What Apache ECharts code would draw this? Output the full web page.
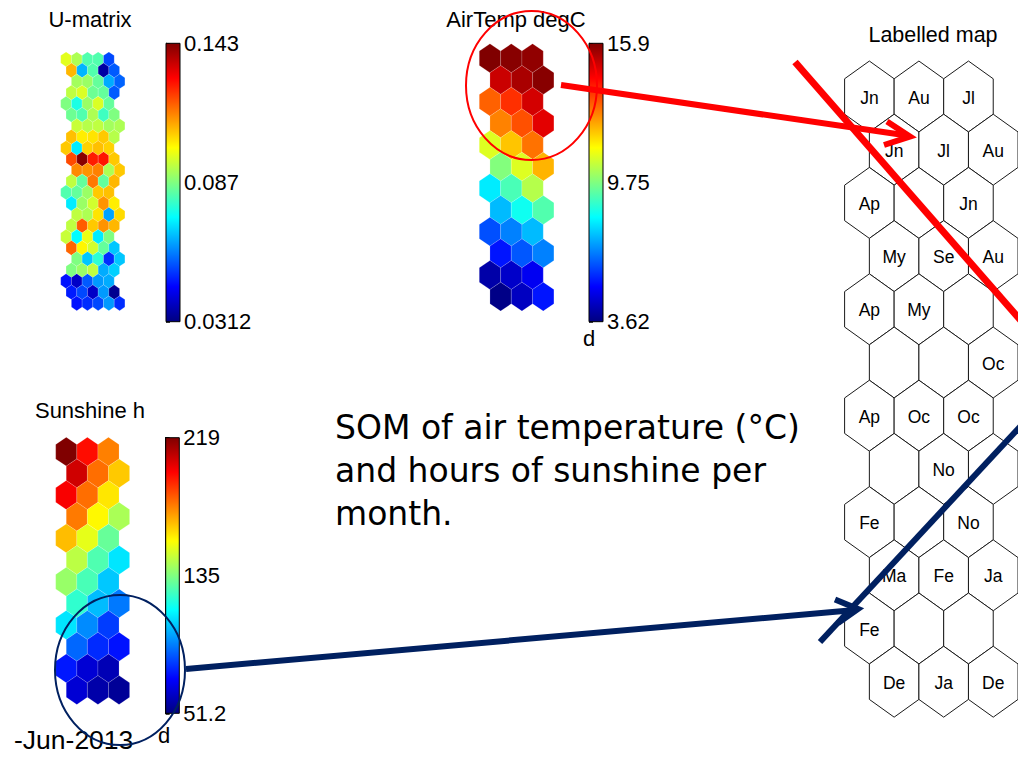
<!DOCTYPE html>
<html><head><meta charset="utf-8">
<script src="https://cdn.jsdelivr.net/npm/echarts@6/dist/echarts.min.js"></script>
<style>html,body{margin:0;padding:0;background:#fff}#c{width:1018px;height:757px}</style>
</head><body><div id="c"></div>
<script>
// ---- data ----
const uMatrix = [
  [0.098, 0.092, 0.082, 0.082, 0.053],
  [0.109, 0.065, 0.082, 0.035, 0.055],
  [0.091, 0.090, 0.084, 0.064, 0.056],
  [0.094, 0.097, 0.085, 0.084, 0.055],
  [0.087, 0.076, 0.090, 0.097, 0.084],
  [0.085, 0.082, 0.092, 0.080, 0.087],
  [0.095, 0.093, 0.094, 0.091, 0.092],
  [0.108, 0.103, 0.104, 0.107, 0.093],
  [0.107, 0.071, 0.106, 0.108, 0.106],
  [0.121, 0.142, 0.126, 0.127, 0.107],
  [0.114, 0.113, 0.115, 0.092, 0.107],
  [0.094, 0.084, 0.116, 0.084, 0.109],
  [0.082, 0.084, 0.090, 0.107, 0.108],
  [0.071, 0.090, 0.096, 0.113, 0.103],
  [0.094, 0.092, 0.104, 0.063, 0.105],
  [0.094, 0.119, 0.107, 0.113, 0.109],
  [0.095, 0.073, 0.099, 0.071, 0.087],
  [0.118, 0.102, 0.096, 0.084, 0.067],
  [0.087, 0.067, 0.078, 0.050, 0.067],
  [0.087, 0.090, 0.094, 0.064, 0.068],
  [0.047, 0.039, 0.055, 0.062, 0.064],
  [0.048, 0.053, 0.039, 0.062, 0.033],
  [0.047, 0.050, 0.053, 0.062, 0.050]
];
const airTemp = [
  [15.9, 15.8, 15.7],
  [15.0, 15.4, 15.8],
  [13.2, 13.8, 14.9],
  [12.8, 13.4, 14.7],
  [10.9, 12.0, 13.0],
  [9.8, 10.9, 12.2],
  [8.0, 9.1, 10.4],
  [7.4, 8.4, 9.2],
  [6.1, 6.7, 7.4],
  [5.4, 6.2, 6.7],
  [4.1, 4.5, 5.0],
  [3.7, 4.4, 5.4]
];
const sunshine = [
  [219, 196, 177],
  [206, 180, 165],
  [199, 180, 160],
  [178, 157, 142],
  [167, 152, 131],
  [145, 127, 110],
  [139, 126, 105],
  [122, 103, 92],
  [110, 95, 82],
  [89, 79, 75],
  [76, 65, 60],
  [65, 58, 55]
];
const monthLabels = [
  ['Jn','Au','Jl'], ['Jn','Jl','Au'], ['Ap','','Jn'], ['My','Se','Au'],
  ['Ap','My',''], ['','','Oc'], ['Ap','Oc','Oc'], ['','No',''],
  ['Fe','','No'], ['Ma','Fe','Ja'], ['Fe','',''], ['De','Ja','De']
];
const uRange = [0.0312, 0.143];
const airRange = [3.62, 15.9];
const sunRange = [51.2, 219];
const uTicks = ['0.0312', '0.087', '0.143'];
const airTicks = ['3.62', '9.75', '15.9'];
const sunTicks = ['51.2', '135', '219'];
const mapTitles = ['U-matrix', 'AirTemp degC', 'Sunshine h', 'Labelled map'];
const slideText = 'SOM of air temperature (°C)\nand hours of sunshine per\nmonth.';
const dateText = '-Jun-2013';

// ---- helpers ----
const jet = ['#000080','#0000ff','#0080ff','#00ffff','#80ff80','#ffff00','#ff8000','#ff0000','#800000'];
function hexData(rows, shifts) {
  const out = [];
  rows.forEach((row, r) => row.forEach((v, c) => out.push([c + shifts[r % shifts.length] + 0.5, r, v, c])));
  return out;
}
function hexPoints(api) {
  const c = api.coord([api.value(0), api.value(1)]);
  const s = api.size([1, 1]);
  const w = s[0] / 2, h = s[1];
  return [[c[0], c[1] - 2*h/3], [c[0] + w, c[1] - h/3], [c[0] + w, c[1] + h/3],
          [c[0], c[1] + 2*h/3], [c[0] - w, c[1] + h/3], [c[0] - w, c[1] - h/3]];
}
function colorHex(params, api) {
  return {type: 'polygon', shape: {points: hexPoints(api)},
    style: {fill: api.visual('color'), stroke: 'rgba(255,255,255,0.3)', lineWidth: 0.5}};
}
function labelHex(params, api) {
  const c = api.coord([api.value(0), api.value(1)]);
  const txt = monthLabels[api.value(1)][api.value(3)];
  return {type: 'group', children: [
    {type: 'polygon', shape: {points: hexPoints(api)}, style: {fill: '#fff', stroke: '#1a1a1a', lineWidth: 1}},
    {type: 'text', style: {text: txt, x: c[0], y: c[1] + 1, align: 'center', verticalAlign: 'middle',
      fontSize: 17.5, fontFamily: 'Liberation Sans', fill: '#000'}}
  ]};
}
function barItem(params, api) {
  const cs = params.coordSys;
  return {type: 'rect', shape: {x: cs.x, y: cs.y, width: cs.width, height: cs.height},
    style: {fill: {type: 'linear', x: 0, y: 1, x2: 0, y2: 0,
      colorStops: jet.map((col, i) => ({offset: i / (jet.length - 1), color: col}))},
      stroke: '#000', lineWidth: 1}};
}

const grids = [
  {left: 60.7, top: 48.2, width: 64.2, height: 266.2},   // U map
  {left: 479.3, top: 36.6, width: 74.6, height: 281.7},  // Air map
  {left: 55.7, top: 430.0, width: 73.9, height: 281.7},  // Sun map
  {left: 844.6, top: 43.3, width: 182.7, height: 691.6}, // Labelled map
  {left: 166, top: 43.3, width: 14, height: 278.4},      // U bar
  {left: 589, top: 43.3, width: 14, height: 278.4},      // Air bar
  {left: 165.7, top: 437.7, width: 13.6, height: 275.6}  // Sun bar
];
const xAxes = [
  {min: 0, max: 6}, {min: 0, max: 3.5}, {min: 0, max: 3.5}, {min: 0, max: 3.5},
  {min: 0, max: 1}, {min: 0, max: 1}, {min: 0, max: 1}
].map((a, i) => Object.assign({type: 'value', gridIndex: i, show: false}, a));
const yAxes = [
  {gridIndex: 0, min: -1, max: 23}, {gridIndex: 1, min: -1, max: 12},
  {gridIndex: 2, min: -1, max: 12}, {gridIndex: 3, min: -1, max: 12}
].map(a => Object.assign({type: 'value', inverse: true, show: false}, a));
[uTicks, airTicks, sunTicks].forEach((ticks, k) => {
  const gi = 4 + k;
  yAxes.push({type: 'value', gridIndex: gi, position: 'right', min: 0, max: 2, interval: 1,
    axisLine: {show: true, lineStyle: {color: '#000', width: 1}},
    axisTick: {show: true, length: 4, lineStyle: {color: '#000', width: 1.5}},
    splitLine: {show: false},
    axisLabel: {show: true, showMinLabel: true, showMaxLabel: true, margin: 4, color: '#000',
      fontSize: 22, fontFamily: 'Liberation Sans', formatter: v => ticks[Math.round(v)]}});
  yAxes.push({type: 'value', gridIndex: gi, position: 'left', min: 0, max: 2, interval: 1,
    axisLine: {show: true, lineStyle: {color: '#000', width: 1}},
    axisTick: {show: true, inside: true, length: 3, lineStyle: {color: '#000', width: 1}},
    splitLine: {show: false}, axisLabel: {show: false}});
});
// yAxis indices: 0..3 maps, 4/5 U bar, 6/7 Air bar, 8/9 Sun bar

const titleStyle = {fontSize: 22, fontWeight: 'normal', color: '#000', fontFamily: 'Liberation Sans'};
const option = {
  animation: false,
  backgroundColor: '#fff',
  title: [
    {text: mapTitles[0], left: 90, top: 8, textAlign: 'center', padding: 0, textStyle: titleStyle},
    {text: mapTitles[1], left: 516, top: 8, textAlign: 'center', padding: 0, textStyle: titleStyle},
    {text: mapTitles[2], left: 90, top: 399, textAlign: 'center', padding: 0, textStyle: titleStyle},
    {text: mapTitles[3], left: 933, top: 24, textAlign: 'center', padding: 0, textStyle: Object.assign({}, titleStyle, {fontSize: 21.5})}
  ],
  grid: grids,
  xAxis: xAxes,
  yAxis: yAxes,
  visualMap: [
    {type: 'continuous', show: false, seriesIndex: 0, dimension: 2, min: uRange[0], max: uRange[1], inRange: {color: jet}},
    {type: 'continuous', show: false, seriesIndex: 1, dimension: 2, min: airRange[0], max: airRange[1], inRange: {color: jet}},
    {type: 'continuous', show: false, seriesIndex: 2, dimension: 2, min: sunRange[0], max: sunRange[1], inRange: {color: jet}}
  ],
  series: [
    {type: 'custom', xAxisIndex: 0, yAxisIndex: 0, renderItem: colorHex, data: hexData(uMatrix, [0, 0.5, 1, 0.5])},
    {type: 'custom', xAxisIndex: 1, yAxisIndex: 1, renderItem: colorHex, data: hexData(airTemp, [0, 0.5])},
    {type: 'custom', xAxisIndex: 2, yAxisIndex: 2, renderItem: colorHex, data: hexData(sunshine, [0, 0.5])},
    {type: 'custom', xAxisIndex: 3, yAxisIndex: 3, renderItem: labelHex, data: hexData(monthLabels.map(r => r.map(() => 0)), [0, 0.5])},
    {type: 'custom', xAxisIndex: 4, yAxisIndex: 4, renderItem: barItem, data: [[0.5, 1]], z: 1},
    {type: 'custom', xAxisIndex: 5, yAxisIndex: 6, renderItem: barItem, data: [[0.5, 1]], z: 1},
    {type: 'custom', xAxisIndex: 6, yAxisIndex: 8, renderItem: barItem, data: [[0.5, 1]], z: 1}
  ],
  graphic: [
    {type: 'text', x: 335, y: 406, z: 50, style: {text: slideText, fontSize: 33, fontFamily: 'DejaVu Sans', fill: '#000', lineHeight: 43}},
    {type: 'text', x: 14, y: 726, z: 50, style: {text: dateText, fontSize: 26.5, fontFamily: 'Liberation Sans', fill: '#000'}},
    {type: 'text', x: 589, y: 327, z: 50, style: {text: 'd', fontSize: 22, fontFamily: 'Liberation Sans', fill: '#000', align: 'center'}},
    {type: 'text', x: 164, y: 724, z: 50, style: {text: 'd', fontSize: 22, fontFamily: 'Liberation Sans', fill: '#000', align: 'center'}},
    {type: 'ellipse', z: 100, shape: {cx: 531.5, cy: 85.5, rx: 65.5, ry: 74.5}, style: {fill: 'none', stroke: '#ff0000', lineWidth: 2}},
    {type: 'line', z: 100, shape: {x1: 561, y1: 85, x2: 907, y2: 135.5}, style: {stroke: '#ff0000', lineWidth: 6}},
    {type: 'polyline', z: 100, shape: {points: [[887, 121.5], [910, 136.5], [884, 145]]}, style: {stroke: '#ff0000', lineWidth: 6, fill: 'none'}},
    {type: 'line', z: 100, shape: {x1: 795, y1: 62, x2: 1030, y2: 331}, style: {stroke: '#ff0000', lineWidth: 7}},
    {type: 'ellipse', z: 100, shape: {cx: 120, cy: 670, rx: 65, ry: 75}, style: {fill: 'none', stroke: '#002060', lineWidth: 2}},
    {type: 'line', z: 100, shape: {x1: 186, y1: 669, x2: 855, y2: 610}, style: {stroke: '#002060', lineWidth: 6}},
    {type: 'polyline', z: 100, shape: {points: [[835, 599.5], [858, 609], [838, 623]]}, style: {stroke: '#002060', lineWidth: 6, fill: 'none'}},
    {type: 'line', z: 100, shape: {x1: 820, y1: 642, x2: 1030, y2: 416}, style: {stroke: '#002060', lineWidth: 6}}
  ]
};
const chart = echarts.init(document.getElementById('c'), null, {renderer: 'svg'});
chart.setOption(option);
</script>
</body></html>
